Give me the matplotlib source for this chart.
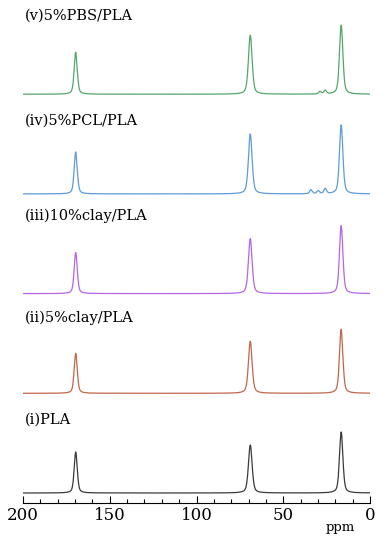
import matplotlib.pyplot as plt
from matplotlib.ticker import MultipleLocator
import numpy as np

# Sample labels (bottom to top) and line colours
labels = ['(i)PLA', '(ii)5%clay/PLA', '(iii)10%clay/PLA', '(iv)5%PCL/PLA', '(v)5%PBS/PLA']
colours = ['#3a3a3a', '#c0674a', '#b565e6', '#5f9bd8', '#55a66c']

# PLA peaks (ppm) and their intensities for each sample (arbitrary units)
pla_shifts = [169.6, 69.0, 16.6]
pla_widths = [2.1, 2.5, 2.3]
pla_heights = [
    [41, 48, 61],
    [40, 52, 64],
    [41, 55, 68],
    [42, 60, 69],
    [42, 59, 69],
]

# Minor blend-component peaks (PCL, PBS)
extra_shifts = [[], [], [], [34.0, 29.8, 25.8], [28.8, 25.8]]
extra_heights = [[], [], [], [4, 3, 5], [2.5, 3.5]]

# label vertical offset above each baseline
label_dy = [73, 75, 78, 73, 79]

ppm = np.linspace(0, 200, 4001)


def peak(x, x0, fwhm, h, eta=0.45):
    # pseudo-Voigt line shape
    g = fwhm / 2.0
    lor = g**2 / ((x - x0)**2 + g**2)
    gau = np.exp(-np.log(2) * ((x - x0) / g)**2)
    return h * (eta * lor + (1 - eta) * gau)


fig = plt.figure(figsize=(3.91, 5.5), dpi=100)
ax = fig.add_axes([23 / 391, 47 / 550, 347 / 391, 503 / 550])

spacing = 99.7
base = 10
for i, lab in enumerate(labels):
    y = np.zeros_like(ppm)
    for x0, w, h in zip(pla_shifts, pla_widths, pla_heights[i]):
        y += peak(ppm, x0, w, h)
    for x0, h in zip(extra_shifts[i], extra_heights[i]):
        y += peak(ppm, x0, 1.8, h)
    off = base + i * spacing
    ax.plot(ppm, y + off, color=colours[i], lw=0.9)
    ax.text(199, off + label_dy[i], lab, fontsize=10.5, family='DejaVu Serif',
            va='center', ha='left')

ax.set_xlim(200, 0)
ax.set_ylim(0, 503)
for s in ['top', 'right', 'left']:
    ax.spines[s].set_visible(False)
ax.spines['bottom'].set_linewidth(0.8)
ax.set_yticks([])
ax.xaxis.set_major_locator(MultipleLocator(50))
ax.xaxis.set_minor_locator(MultipleLocator(10))
ax.tick_params(axis='x', which='major', direction='in', length=5, width=0.8,
               labelsize=12, pad=3)
ax.tick_params(axis='x', which='minor', direction='in', length=3, width=0.8)
for t in ax.get_xticklabels():
    t.set_family('DejaVu Serif')

fig.text(340 / 391, 1 - 528 / 550, 'ppm', fontsize=9.5, family='DejaVu Serif',
         ha='center', va='center')

fig.savefig('out.png', dpi=100)
